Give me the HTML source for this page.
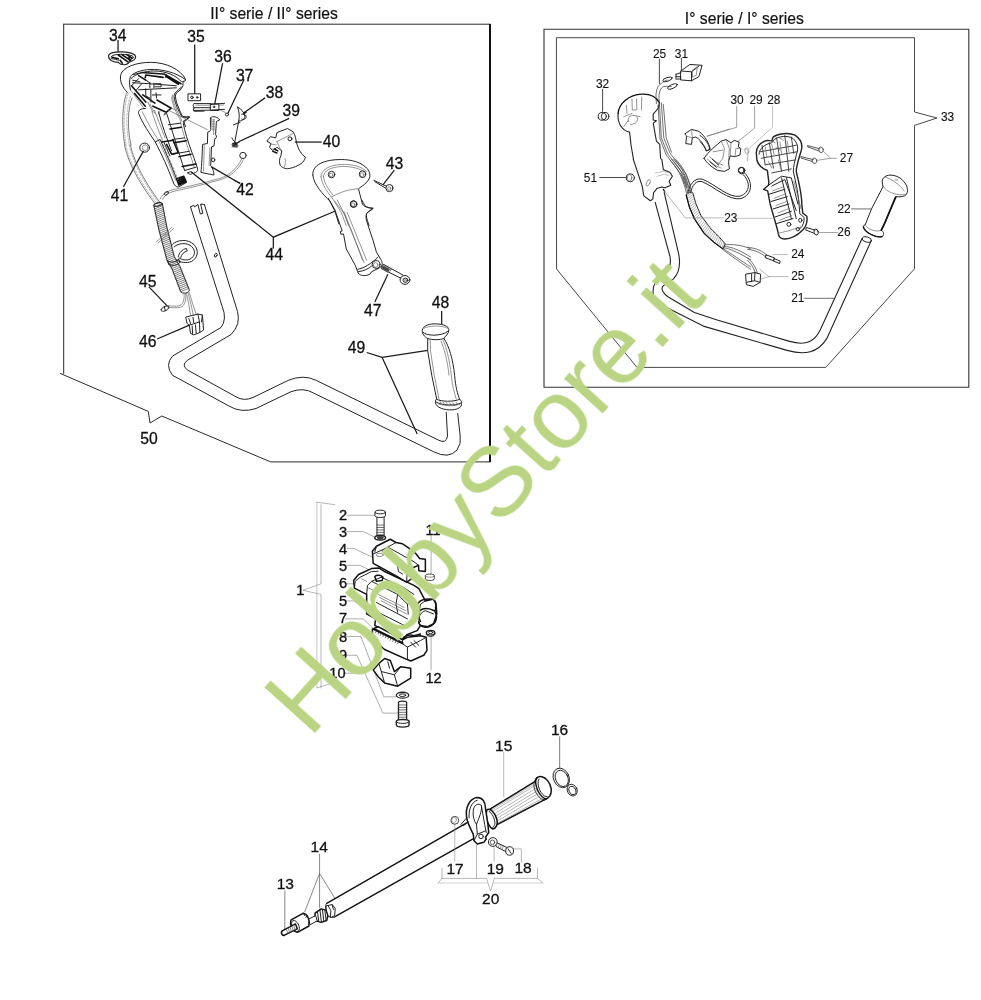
<!DOCTYPE html>
<html><head><meta charset="utf-8"><title>Parts diagram</title>
<style>
html,body{margin:0;padding:0;background:#fff;}
body{width:981px;height:1000px;overflow:hidden;font-family:"Liberation Sans",sans-serif;}
svg{display:block;position:absolute;left:0;top:0;}
text{font-family:"Liberation Sans",sans-serif;fill:#111;}
path,line,ellipse,circle,rect,polyline,polygon{vector-effect:non-scaling-stroke;}
.l{fill:none;stroke:#222;stroke-width:1;stroke-linecap:round;stroke-linejoin:round;}
.b{fill:none;stroke:#111;stroke-width:1.5;stroke-linecap:round;stroke-linejoin:round;}
.t{fill:none;stroke:#666;stroke-width:0.7;stroke-linecap:round;stroke-linejoin:round;}
.g{fill:none;stroke:#999;stroke-width:0.6;stroke-linecap:round;stroke-linejoin:round;}
.f{fill:#fff;stroke:#222;stroke-width:1;stroke-linejoin:round;}
.fb{fill:#fff;stroke:#111;stroke-width:1.5;stroke-linejoin:round;}
.k{fill:#222;stroke:none;}
.ld{fill:none;stroke:#1a1a1a;stroke-width:1.25;stroke-linecap:butt;}
.lt{fill:none;stroke:#777;stroke-width:0.7;stroke-linecap:butt;}
#labels text{text-anchor:middle;stroke:#111;}
</style></head><body>
<svg width="981" height="1000" viewBox="0 0 981 1000">
<rect width="981" height="1000" fill="#fff"/>
<g id="frames">
<path class="t" style="stroke:#2a2a2a;stroke-width:1" d="M63.7 24.2H490M63.7 24.2V373.5M60.4 373.5L148.3 411.4L150 423L161.8 416L270.6 461.9H490"/>
<path d="M490 24V462" stroke="#111" stroke-width="2" fill="none"/>
<rect x="544" y="29.3" width="424.8" height="358" fill="none" stroke="#333" stroke-width="1.1"/>
<path class="t" style="stroke:#333;stroke-width:0.9" d="M556.8 37.7H914.5V112L937 118L914.5 125.4V268.8L825.8 367.4H637L556.8 269.3Z"/>
</g>
<g style="filter:grayscale(1)">
<text x="274" y="18.5" font-size="15.7" text-anchor="middle" stroke="#111" stroke-width="0.2">II° serie / II° series</text>
<text x="744.3" y="24.4" font-size="15.7" text-anchor="middle" stroke="#111" stroke-width="0.2">I° serie / I° series</text>
</g>
<g id="parts">
<!-- a1_housing.svg -->
<g transform="translate(105,45) scale(0.10194)">
<!-- part 34 -->
<path class="f" style="stroke-width:1.2" d="M35 110C35 75 100 65 170 68C240 70 305 85 300 120C295 150 260 160 240 165C225 200 160 205 130 170C70 165 35 145 35 110Z"/>
<path class="l" d="M60 115C70 95 130 90 170 92C220 94 270 100 280 118C275 135 255 142 240 145M60 130C90 140 120 145 140 150"/>
<path class="b" style="stroke-width:1.6" d="M130 98L225 165M165 95L250 150M215 95L265 130M70 120L130 135M235 105L240 150M150 150L170 180"/>
<!-- dome -->
<path class="f" d="M220 465C170 420 140 350 155 290C175 220 300 170 450 170C600 170 740 240 790 335C795 350 780 358 765 357L765 400L740 440L700 470L690 500L700 560L740 660L760 700L830 710L770 745L790 800L830 981L300 981Z" style="stroke:none"/>
<path class="l" d="M220 465C170 420 140 350 155 290C175 220 300 170 450 170C600 170 740 240 790 335C795 350 780 358 765 357"/>
<path class="l" d="M790 340C700 270 560 235 440 240C350 245 270 275 250 310C235 340 240 400 250 440"/>
<path class="l" d="M255 330C300 280 400 255 480 255C600 255 700 300 750 360M765 357L765 400L740 440L700 470L690 500L700 560L740 660L760 700L830 710L770 745L790 800"/>
<path class="t" d="M660 490L672 560L715 665L740 710L755 750"/>
<path class="b" style="stroke-width:1.6" d="M360 270L570 285M400 295L570 318M400 295L395 320M580 285L720 365L745 380M600 310L720 385M330 300L400 345M260 400L400 560M290 475L395 600M370 490L490 570M510 540L650 620L600 660L470 600"/>
<path class="l" d="M270 370L440 380L700 400M260 400L330 330M300 450L360 380M330 440L700 420M440 370V420M480 375V420M490 380H550V410H490M400 430V500L440 520M450 440V560M465 490H550M500 470L505 520M270 345L340 360M400 345L440 370M600 290L590 320M280 290L360 270"/>
<path class="t" d="M250 440L380 620M420 560L470 660M440 580L490 670M540 650L520 680M600 660L580 690M650 620L700 640"/>
<!-- cable from dome -->
<path class="t" style="stroke:#444" d="M215 470C170 560 160 800 195 981M265 520C225 600 215 820 255 981"/>
<path class="g" style="stroke:#888" stroke-dasharray="2 1.5" d="M228 480C185 570 175 800 208 981M250 505C210 590 200 815 240 981"/>
</g>
<g transform="translate(90,40) scale(0.16310)">
<path class="ld" d="M172 0V72"/>
<!-- right side edge of housing w/ notch -->
<path class="l" d="M560 290C535 310 515 325 515 345C520 390 545 440 565 472C580 478 600 470 610 470C605 485 580 495 572 510C580 560 600 620 625 690C640 730 655 770 660 792C662 806 650 812 640 815"/>
<path class="t" d="M500 350C505 400 530 450 550 480C560 530 585 620 610 690L640 780"/>
<!-- left outer edge of grip -->
<path class="l" d="M340 420C310 420 295 430 298 450C320 510 370 580 400 625C440 700 480 790 510 870C515 890 530 905 545 900L590 875"/>
<path class="t" d="M320 440C350 500 390 570 420 615C455 690 495 780 525 860"/>
<path class="l" d="M400 625L430 610C460 680 500 770 530 850"/>
<path class="t" d="M440 620C470 690 505 770 535 845" stroke-dasharray="2 2"/>
<!-- inner channel & ribs -->
<path class="l" d="M455 455L470 450C500 540 540 680 580 800M420 440C440 520 470 600 500 680"/>
<path class="t" d="M380 440C400 500 420 560 445 615M395 430L460 600"/>
<path class="b" d="M490 545L560 535M515 630L590 618M545 715L620 700M565 775L650 760"/>
<path class="l" d="M480 520L555 510M505 610L580 600M535 695L610 682"/>
<path class="b" d="M440 625L510 615L540 690L510 700M470 640L500 700L520 695"/>
<path class="l" d="M455 630L490 710"/>
<!-- bottom connector -->
<path class="b" d="M530 850L575 835L590 870L545 890ZM540 860L580 845M545 870L585 855M548 880L588 863M550 845V885M562 840V880M574 838V875"/>
<path class="l" d="M580 800L650 780M600 815C610 805 625 805 630 815C625 825 610 828 600 815Z"/>
<!-- cable double line left -->
<path class="t" style="stroke:#444" d="M212 644C225 720 280 850 400 1005M248 644C262 720 318 850 432 1000"/>
<path class="g" style="stroke:#888" stroke-dasharray="2 1.5" d="M220 644C233 720 290 850 410 1003M240 644C254 720 310 850 424 1001"/>
<!-- part 41 washer -->
<ellipse class="l" cx="335" cy="660" rx="30" ry="28"/>
<ellipse class="t" cx="338" cy="660" rx="18" ry="17"/>
<path class="ld" d="M328 680L205 900"/>
<!-- wire bottom to right -->
<path class="t" d="M430 975C440 950 470 925 520 915C600 900 700 875 790 850C850 835 900 790 930 730M445 978C455 955 480 935 525 925C610 908 705 883 795 858C860 840 910 795 940 735"/>
<ellipse class="l" cx="938" cy="708" rx="20" ry="19"/>
<ellipse class="l" cx="468" cy="940" rx="14" ry="9" transform="rotate(-35 468 940)"/>
<!-- part 35 plate -->
<path class="l" d="M603 330H678V372H603Z"/>
<ellipse class="l" cx="625" cy="352" rx="8" ry="8"/><ellipse class="l" cx="657" cy="352" rx="5" ry="5"/>
<path class="ld" d="M642 28V330"/>
<!-- part 36 -->
<path class="l" d="M638 390H740V395L825 388M635 415H740M640 432L740 430L825 425M740 392H790V432H740ZM638 390C630 395 630 410 640 415M638 418C630 425 632 435 640 437L700 436"/>
<ellipse class="l" cx="760" cy="410" rx="5" ry="5"/>
<path class="t" d="M650 400H735M790 400L820 398M800 430L830 445"/>
<path class="ld" d="M813 142L765 392"/>
<!-- part 37 -->
<ellipse class="l" cx="840" cy="457" rx="10" ry="9"/>
<path class="ld" d="M945 240L845 450"/>
<!-- part 38/39 spring pieces -->
<path class="l" d="M905 412C925 420 945 440 950 470C945 490 925 500 912 495C918 470 915 440 905 412ZM930 455C940 450 955 455 958 470C955 485 940 492 930 485"/>
<path class="l" d="M912 495L885 640M880 520L920 505M870 600C875 615 885 625 895 630"/>
<path class="k" d="M872 630H905V655H872Z"/>
<path class="t" d="M868 640L912 650M870 655L905 660"/>
<path class="ld" d="M940 455L960 442M890 638L920 622"/>
<!-- part 42 trigger -->
<path class="l" d="M740 475C755 465 780 470 795 490L775 500L770 580C780 590 775 605 765 605L760 650L745 655L740 770C755 790 760 810 760 828L680 812C685 770 688 700 690 640L720 635L722 565C735 560 745 555 740 540Z"/>
<path class="t" d="M745 480L742 540M760 485L758 580M750 490H762M750 500H762M750 510H762M750 520H762M750 530H762M750 540H762M750 550H762M700 645C700 700 698 760 695 805M735 660L730 770"/>
<ellipse class="l" cx="755" cy="735" rx="10" ry="12"/>
<path class="t" d="M480 430L720 550"/>
<path class="ld" d="M745 778L920 880"/>
<!-- leader 44 from housing -->

</g>

<!-- a2_spring.svg -->
<g transform="translate(100,180) scale(0.16310)">
<!-- cable into spring -->

<!-- spring sleeve -->
<path class="f" d="M330 155C335 140 375 132 382 145L410 290L455 470L490 530L548 675C545 695 505 700 495 685L440 540L410 490L360 300Z"/>
<path class="t" style="stroke:#444" d="M331 167L383 145M334 178L385 156M336 189L388 168M338 201L390 179M341 212L392 190M343 224L394 202M345 235L396 213M348 246L399 225M350 258L401 236M352 269L403 248M355 281L405 259M357 292L407 270M359 303L410 282M362 315L412 293M365 326L415 305M368 337L418 316M371 348L421 327M374 360L424 338M377 371L426 350M380 382L429 361M383 393L432 372M386 404L435 384M389 416L438 395M392 427L441 406M395 438L443 417M398 449L446 429M401 461L449 440M404 472L452 451M407 483L455 463M410 494L460 473M415 505L466 483M421 515L472 493M427 524L478 503M433 534L484 513M439 544L489 523M443 555L494 534M448 566L498 545M452 577L503 555M456 588L507 566M460 599L511 577M464 609L516 588M468 620L520 599M472 631L524 610M476 642L529 620M481 653L533 631M485 664L537 642M489 675L542 653M493 686L546 664"/>
<ellipse class="l" cx="356" cy="150" rx="26" ry="9" transform="rotate(-12 356 150)"/>
<path class="l" d="M415 495C430 510 470 505 482 485M420 515C440 530 475 525 490 505M415 495L420 515M482 485L490 505"/>
<!-- break slash -->
<path class="t" d="M345 380L440 290M355 388L450 298"/>
<!-- loop -->
<path class="l" d="M445 395C470 365 540 360 575 395C610 430 600 480 560 500C530 512 490 505 470 490M455 410C480 385 535 382 562 408C590 435 582 470 552 485C530 495 500 490 485 478"/>
<path class="l" d="M480 470C485 445 505 425 530 420L535 435C515 440 500 455 495 475"/>
<!-- wires from spring bottom -->
<path class="t" d="M515 695C520 730 510 760 490 770C460 780 430 765 410 775M525 695C532 735 520 770 495 780C465 790 435 775 415 785M530 695C540 740 550 790 555 830M540 692C552 740 565 790 572 830M548 690C560 735 575 780 590 825"/>
<!-- part 45 terminal -->
<path class="l" d="M375 795C380 780 400 770 420 772C425 780 420 795 405 800C390 808 372 808 375 795ZM395 778L400 800"/>
<path class="ld" d="M300 655L410 770"/>
<!-- connector 46 -->
<path class="l" d="M528 840L600 822L628 828L635 920L612 935L575 950L555 940L548 890L535 880ZM548 890L610 870L612 935M600 822L610 870M565 895L568 945M585 888L590 940M545 850L555 880M570 842L575 875M628 828L622 870"/>
<path class="ld" d="M350 975L548 890"/>
<!-- leader 44 / 42 -->

<path class="ld" d="M820 0L860 20"/>
</g>

<!-- a3_tube.svg -->
<g>
<!-- handlebar tube left frame -->
<path class="l" d="M190.5 206.9L222.2 306.5Q227.3 319.2 221 327.5L172.5 356.1Q164.5 365.1 172.5 375.3L228.6 405.8Q241 413.5 256 408.5L290.8 391.8Q303.5 387 313.7 393.1L433.5 451.7Q448.8 459.4 457 450Q461.5 444 460.2 436L457.7 413.5"/>
<path class="l" d="M204.4 204.5L237.5 311.5Q241 324.3 231.1 334.5L187.8 360Q180.5 365.1 187.8 370.2L236.2 396.9Q244 401.5 253 397.5L288.2 380.4Q303.5 374 316.3 380.4L438.6 440.2Q446.2 444.1 447.5 436L446.2 412.2"/>
<!-- tube top with slot -->
<path class="l" d="M190.5 206.9L193.8 205.3L194.6 206.9L197.9 204.5L200.3 214L202.8 213.4L200.6 204L204.4 204.5"/>
<ellipse class="l" cx="215.8" cy="255.2" rx="1.2" ry="2" transform="rotate(25 215.8 255.2)"/>
</g>

<!-- a4_rhandle.svg -->
<g transform="translate(250,100) scale(0.16310)">
<!-- part 40 -->
<path class="l" d="M105 250L125 225L158 232L165 200L230 175L265 195C280 220 280 240 285 260C295 300 315 335 340 350C335 370 325 380 320 385C295 405 265 415 240 420C215 425 190 410 185 400C178 380 180 360 190 340L195 310L165 290L140 310L120 290L128 270Z"/>
<path class="t" d="M165 255L265 205M165 255L190 310M215 360C220 375 218 395 210 410M130 270L160 275M135 300L165 310"/>
<path class="b" d="M140 315L165 325M150 300L170 312"/>
<ellipse class="l" cx="245" cy="238" rx="12" ry="12"/>
<path class="ld" d="M275 258H440"/>
<!-- right handle top -->
<path class="l" d="M385 460C380 400 450 365 560 365C660 365 740 410 735 470C725 510 680 530 665 545L690 640C705 660 735 662 755 665C740 680 720 685 715 695C712 710 715 725 720 740L730 770"/>
<path class="l" d="M385 460C390 520 450 580 490 620L520 680L545 760"/>
<path class="t" d="M435 470C435 430 480 400 560 395C630 392 690 410 715 440M435 470C440 520 480 570 500 595C560 560 620 545 665 545M500 595L560 690L590 770M450 470C452 435 490 412 560 408C620 405 680 420 705 445M450 470C455 515 490 560 510 585M520 620L580 700L605 770"/>
<ellipse class="l" cx="500" cy="457" rx="20" ry="20"/><ellipse class="t" cx="497" cy="460" rx="11" ry="11"/>
<ellipse class="l" cx="690" cy="455" rx="20" ry="21"/><ellipse class="t" cx="687" cy="458" rx="11" ry="12"/>
<ellipse class="l" cx="635" cy="638" rx="20" ry="20"/><ellipse class="t" cx="632" cy="641" rx="11" ry="11"/>
<!-- part 43 screw -->
<path class="l" d="M760 493L835 528M765 500L830 540"/>
<ellipse class="l" cx="855" cy="540" rx="22" ry="22"/><ellipse class="t" cx="853" cy="543" rx="10" ry="10"/>
<path class="ld" d="M885 430L815 520"/>
<!-- leaders 44 -->
<path class="ld" d="M-360 441L143 841L520 682M143 841V910"/>
<!-- leaders 38 39 -->
<path class="ld" d="M-39 80L92 -13M-70 256L240 113"/>
</g>
<g transform="translate(290,200) scale(0.16310)">
<path class="l" d="M235 -10L275 60L320 190L308 193L312 210L328 208L345 300L400 400L415 440C420 465 460 470 490 455L500 440L550 415C565 405 570 390 560 370L530 320L510 250L470 130C465 110 465 95 470 82C485 70 500 55 510 50C490 50 470 45 460 35L440 0"/>
<path class="l" d="M415 425C450 420 500 390 540 350M418 440C455 435 485 420 500 405"/>
<path class="t" d="M290 0L330 80L400 250L455 385M330 70L390 220L445 370M350 75L470 370"/>
<ellipse class="l" cx="528" cy="395" rx="24" ry="24"/><ellipse class="t" cx="525" cy="398" rx="14" ry="14"/>
<ellipse class="l" cx="390" cy="25" rx="20" ry="20"/>
<!-- bolt 47 -->
<path class="l" d="M560 420L680 480M575 396L692 460M560 420C556 410 565 398 575 396"/><path d="M568 400L612 424L600 446L558 422Z" fill="#555"/>
<path class="t" style="stroke:#333" d="M572 415L582 402M580 420L590 407M588 424L598 411M596 428L606 415M604 433L614 420M612 437L622 424"/>
<ellipse class="l" cx="705" cy="490" rx="30" ry="27"/><ellipse class="l" cx="708" cy="492" rx="15" ry="13"/><ellipse class="t" cx="708" cy="492" rx="6" ry="5"/>
<path class="ld" d="M600 455L520 625"/>
<!-- leader 48 -->
<path class="ld" d="M930 680V770"/>
<!-- leader 49 -->
<path class="ld" d="M470 935L565 965L855 920M565 965L780 1435"/>
</g>

<!-- a5_grip48.svg -->
<g transform="translate(360,310) scale(0.16310)">
<path class="f" d="M415 175C395 165 380 145 382 125C385 95 430 82 470 85C510 87 545 100 545 120C545 150 520 160 515 175C545 220 570 300 580 400C585 470 600 520 610 545C620 555 625 565 622 575C625 595 600 610 565 612C520 615 465 600 462 565C462 555 465 548 470 545L440 400L415 250Z"/>
<path class="l" d="M385 135C400 160 500 165 543 128M415 175C440 185 490 185 515 175"/>
<path class="t" d="M392 112C420 95 500 92 538 112M430 185L432 250L455 400L485 548M510 185C530 230 548 300 560 400C565 460 578 510 590 545M497 190C515 235 535 300 546 400"/>
<path class="l" d="M470 548C500 562 570 565 610 548M468 565C500 585 580 590 620 570"/>
<path class="t" d="M480 575C520 590 580 590 612 578M490 560L500 575M510 565L520 582M530 568L540 585M550 570L560 586M570 570L580 585M590 566L598 580"/>
</g>

<!-- b1_lhandle.svg -->
<g transform="translate(570,40) scale(0.16310)">
<!-- handle half -->
<path fill="#fff" d="M295 450C300 390 360 335 440 332C490 330 530 350 548 385L540 420L510 455L510 490L530 495L510 510L530 620L550 640L555 720L558 735L390 735L375 650L365 565C310 550 290 500 295 450Z"/>
<path class="l" style="stroke:#222;stroke-width:1.1" d="M548 385L540 420L510 455L510 490L530 495L510 510L530 620L550 640L555 720L558 735M390 735L375 650L365 565C310 550 290 500 295 450"/>
<path class="b" style="stroke-width:1.3" d="M295 450C300 390 360 335 440 332C490 330 530 350 548 385"/>
<path class="t" d="M380 362L382 430L410 428L408 362M440 350L438 430M345 400L350 450M330 470L380 450M330 530L360 490M360 500C350 480 365 460 390 462M390 462L430 470M410 470C420 480 415 500 400 510L370 520"/>

<!-- wires -->
<path class="t" style="stroke:#333" d="M530 390C525 350 525 310 540 285C555 265 580 250 595 245M548 385C542 350 545 315 560 295C580 275 600 290 620 285M548 385L560 600L600 700L700 830L725 900M560 385L575 600L612 692L712 822L740 895M540 400L552 605L590 705L690 835L712 905M572 395L590 600L622 688"/>
<ellipse class="l" cx="598" cy="241" rx="30" ry="11" transform="rotate(-18 598 241)"/>
<ellipse class="l" cx="628" cy="285" rx="32" ry="12" transform="rotate(-22 628 285)"/>
<path class="t" d="M700 840L720 905M680 820L700 880"/>
<!-- switch 31 -->
<path class="l" d="M680 190L735 150L810 155L790 225L745 250L680 245ZM680 190L745 195L745 250M745 195L790 160M650 210L680 200M650 225L680 225M655 240L680 238M650 210V240"/>
<path class="t" d="M755 180L780 165L775 215L752 228Z"/>
<path class="lt" style="stroke:#333;stroke-width:0.9" d="M548 115V270M683 110V190"/>
<!-- part 32 -->
<ellipse class="l" cx="198" cy="468" rx="25" ry="24"/><ellipse class="l" cx="215" cy="468" rx="23" ry="24"/>
<path class="lt" style="stroke:#333;stroke-width:0.9" d="M200 300V440"/>
<!-- part 51 -->
<ellipse class="l" cx="370" cy="845" rx="25" ry="24"/><ellipse class="t" cx="365" cy="845" rx="14" ry="20"/>
<path class="lt" style="stroke:#333;stroke-width:0.9" d="M180 843H345"/>
<!-- part 30 lever -->
<path class="l" d="M705 575L745 548L790 560C830 590 850 630 860 670L835 680C820 640 800 610 770 595L750 600L745 640L710 635L715 590Z"/>
<path class="t" d="M715 590L750 600M745 548L750 600"/>
<path class="lt" d="M840 590L981 545"/>
<!-- wire loop start -->

</g>

<!-- b2_rhandle.svg -->
<g transform="translate(700,80) scale(0.16310)">
<!-- part 29 bracket -->
<path class="l" d="M25 480C50 440 100 400 130 375L160 365L190 385L210 370L240 380L235 410L250 420L245 460L215 470L185 465L175 500L180 545L150 560L110 555C80 540 40 510 25 480Z"/>
<path class="t" d="M45 485C70 510 100 530 130 540M60 470C85 495 110 512 140 522M130 375L150 420L140 480L110 520M160 365L180 420L175 500M80 440L140 430M190 385L185 465M215 470L220 420L250 420"/>
<path class="l" d="M60 500L100 535M75 485L115 522"/>
<!-- part 28 spring -->
<path class="g" style="stroke:#777" d="M270 430C275 410 300 410 300 435C300 455 275 455 275 435C275 420 295 420 295 435M295 440L290 495"/>
<!-- leaders 30 29 28 -->
<path class="lt" d="M225 160V290L40 345M335 160V295L235 375"/>
<path class="g" d="M445 160V290L300 420"/>
<!-- ball wire -->
<ellipse class="l" cx="253" cy="553" rx="17" ry="17"/>

<!-- part 30 tail -->
<path class="l" d="M0 340C30 360 55 390 60 425L40 435C30 410 15 390 0 378"/>
<!-- right handle half -->
<path class="f" style="stroke-width:1.4" d="M347 463C338 420 363 382 413 370L441 373L447 351C475 329 544 320 582 338C619 363 632 401 619 438C600 500 590 530 590 560C605 620 625 700 625 770L630 815L655 835C660 870 650 900 630 920C600 950 560 975 520 975C495 975 480 960 480 940L470 900L430 760L415 680L390 670L420 645L422 626L413 554C369 538 344 513 347 463Z"/>
<path class="l" d="M362 455C362 420 400 392 440 385L455 365C485 345 535 338 570 358C600 385 605 420 592 455C582 495 572 530 572 560C585 620 605 700 608 770L612 820L638 842C640 870 632 895 615 910"/>
<path class="l" style="stroke:#333;stroke-width:0.9" d="M380 400L400 520M425 385L450 540M470 355L500 560M520 340L545 560M560 350L575 450M370 440L590 400M375 480L595 440M400 520L585 490M440 570L560 545"/>
<path class="t" d="M400 410L410 470M440 395L455 460M490 380L500 450M535 375L545 440M460 420C470 410 490 415 490 430M420 500L440 540M480 490L495 545M430 370L460 385M480 350L510 370"/>
<path class="l" d="M420 645L500 590L560 600L600 760M440 650L520 610L590 800M425 700L520 670M435 745L535 715M450 790L545 760M460 840L560 805M470 880L570 850M500 600L560 850M530 600L590 850"/>
<path class="t" d="M445 680L510 655M455 725L525 698M465 770L538 742M478 815L550 787M488 860L560 832M575 620L620 790M480 940L540 925L620 900"/>
<ellipse class="l" cx="545" cy="885" rx="12" ry="12"/><ellipse class="l" cx="615" cy="860" rx="10" ry="12"/><ellipse class="l" cx="600" cy="915" rx="10" ry="10"/>
<!-- parts 27 screws -->
<path class="l" style="stroke:#555" d="M660 402L735 422M665 412L730 435M660 402C655 405 658 412 665 412M620 470L695 488M625 480L690 500M620 470C615 473 618 480 625 480"/>
<ellipse class="l" style="stroke:#555" cx="742" cy="428" rx="14" ry="17" transform="rotate(-15 742 428)"/>
<ellipse class="l" style="stroke:#555" cx="702" cy="495" rx="14" ry="17" transform="rotate(-15 702 495)"/>
<path class="lt" d="M840 480H800L755 435M800 480L715 493"/>
<!-- part 26 screw -->
<path class="l" d="M655 905L705 920M650 920L700 940M655 905C648 908 645 918 650 920"/>
<ellipse class="l" cx="712" cy="932" rx="13" ry="18" transform="rotate(-15 712 932)"/>
<path class="lt" d="M730 935H845"/>
<!-- leader 23 -->
<path class="g" d="M230 848H460"/>
<!-- leader 22 -->

</g>

<!-- b3_tube.svg -->
<g transform="translate(590,160) scale(0.16310)">
<!-- handle bottom -->
<path d="M265 -5L320 160L330 220L370 250L385 240L390 200L410 175L440 165L460 170L495 155L485 130L505 100L490 75L450 60L440 -5Z" fill="#fff"/><path class="l" style="stroke:#222;stroke-width:1.1" d="M265 -5L320 160L330 220L370 250L385 240L390 200L410 175L440 165L460 170L495 155L485 130L505 100L490 75L450 60L440 -5"/>
<ellipse class="t" cx="357" cy="140" rx="10" ry="22" transform="rotate(25 357 140)"/>
<path class="g" d="M400 80L450 70L480 80M410 100L455 88L485 95"/>
<path class="b" style="stroke-width:1.3" d="M450 180L458 195"/>
<!-- wires above wrap -->
<path class="t" style="stroke:#333" d="M500 -5C540 30 580 90 600 200M512 -5C552 30 592 90 612 195M524 -5C562 30 600 90 622 195M490 0C530 40 568 100 592 205"/>
<!-- ball wire -->
<ellipse class="l" cx="930" cy="65" rx="20" ry="20"/>
<path class="l" d="M935 85C985 130 985 200 920 222C850 235 770 150 690 118C640 105 612 150 600 200M948 80C1000 130 1000 212 925 237C850 250 765 165 688 133C650 122 628 155 616 198"/>
<!-- spiral wrap -->
<path class="f" d="M590 215C600 200 620 195 630 200L650 270L680 340L740 420L790 470L830 515L815 545L760 505L700 450L640 360L610 290Z"/>
<path class="g" style="stroke:#888" d="M592 222L630 200M595 235L633 211M599 248L637 223M602 261L640 235M606 275L644 247M609 288L647 260M615 301L651 272M620 313L656 283M625 326L661 295M631 338L666 307M636 351L671 318M642 363L676 330M650 375L681 341M657 386L689 352M665 397L696 362M673 409L704 372M680 420L711 382M688 432L719 392M695 443L727 402M704 454L734 412M714 463L742 422M724 472L751 431M734 481L760 440M744 491L769 449M755 500L778 458M765 509L787 467M776 517L796 476M787 525L804 486M798 533L812 495M809 541L821 505"/>
<path class="b" style="stroke-width:1.2" d="M590 215L610 290L640 360L700 450L760 505L815 545"/>
<!-- split wires -->
<path class="t" style="stroke:#333" d="M825 520C870 515 930 520 985 545M822 530C870 530 930 560 985 595M820 538C870 545 930 580 985 612M818 545C860 570 930 620 985 655M815 550C855 580 925 630 985 670"/>
<!-- leader 23 -->
<path class="g" style="stroke:#888" d="M455 190L585 355H820"/>
<!-- part 51 -->
</g>
<g>
<!-- tube right frame (source coords) -->
<path class="l" style="stroke-width:1.1" d="M664.2 192.6L678.1 251.3C681.3 264.4 679.7 272.5 673.2 279.1L663.4 285.6C660.1 288.9 663.4 293.7 668.3 297L694.4 312.5L717.2 320L789.6 341.4C807.5 346.5 815.1 340.2 820.2 330L862.2 238.2"/>
<path class="l" style="stroke-width:1.1" d="M655.2 202.4L669.9 256.2C671 262 671 266 668 270M656 282C652.5 286 652 295.4 655.2 300.3C660 305 664 306 667.6 308L703.3 326.1L787.1 350.4C804.9 355.5 817.6 352.9 826.6 338.9L871.2 240.8"/>
<ellipse class="l" cx="866.8" cy="239.5" rx="4.8" ry="2.6" transform="rotate(15 866.8 239.5)"/>
</g>
<g transform="translate(750,160) scale(0.16310)">
<!-- grip 22 -->
<path class="f" d="M810 130C815 90 870 80 920 110C960 140 975 180 960 210C950 225 920 228 895 225L830 380L805 430C820 440 825 460 810 470C770 480 700 440 695 410C695 400 700 400 705 400L745 300L815 165Z"/>
<path class="t" d="M815 160C840 200 900 220 955 212M830 105C870 120 920 150 945 190M705 400C730 430 780 445 805 430"/>
<path class="b" style="stroke-width:1.8" d="M893 228L820 400L805 430"/>
<path class="b" style="stroke-width:1.3" d="M695 410C700 440 770 480 810 470"/>
<ellipse class="g" cx="895" cy="122" rx="8" ry="4"/>
<path class="lt" style="stroke:#333" d="M620 300H745"/>
<!-- part 26 leader etc -->
<path class="g" style="stroke:#888" d="M140 580H230M115 715H235M115 715L60 670M115 715L70 730"/>
<path class="lt" style="stroke:#333" d="M330 848H515"/>
<!-- part 24 -->
<path class="t" style="stroke:#333" d="M-15 535C40 540 80 560 105 585M-15 548C35 552 70 572 98 595"/>
<path class="l" d="M100 582L150 600L145 618L95 600ZM150 605L185 620L182 635L146 620Z"/>
<!-- part 25 connector -->
<path class="l" d="M-25 700L30 690L65 700L62 750L20 775L-20 765ZM30 690L28 740L62 750M28 740L-20 750M10 700V745"/>
<path class="t" style="stroke:#333" d="M-15 600C10 620 40 660 45 695M-15 615C5 635 28 665 32 692"/>
</g>

<!-- c1_clamp.svg -->
<g>
<!-- bracket 1 (source coords) -->
<path class="g" style="stroke:#888" d="M316.9 502.2L334.8 504.7M321 504.7V583.8L303 590.3L321 594.4V687.9M316.9 687.9L330 683.8"/>
<path class="g" style="stroke:#999" stroke-dasharray="1 1" d="M316.9 502.2V687.9"/>
</g>
<g transform="translate(290,490) scale(0.16310)">
<!-- leaders -->
<path class="g" style="stroke:#777" d="M350 155H520M350 255H450L530 295M350 358H390L505 412M350 462H430L490 492M350 575H395M350 680H390L470 720M340 790H450L515 855"/>
<path class="g" style="stroke:#777" d="M865 280V515"/>
<!-- bolt 2 -->
<path class="f" d="M533 160V285H577V160Z"/>
<path class="t" style="stroke:#333" d="M535 215H575M535 230H575M535 245H575M535 260H575M535 275H575"/>
<path class="f" d="M521 135C521 120 585 120 585 135V158C585 172 521 172 521 158Z"/>
<path class="l" d="M521 137C525 150 582 150 585 137"/>
<!-- washer 3 -->
<ellipse class="f" style="stroke-width:1.5" cx="553" cy="293" rx="33" ry="14"/>
<ellipse class="l" cx="553" cy="293" rx="18" ry="7" style="fill:#555"/>
<!-- middle block -->
<path class="fb" d="M390 555L420 518L500 482L545 478L580 500L760 585L790 605L830 680L880 668L895 700L900 760L880 820L845 838L800 830L780 862L720 885L690 920L640 900L520 830L525 790L470 760L470 640L395 602Z"/>
<path class="l" d="M395 602L400 560L430 535L500 500L540 498M470 640L475 585L500 560L560 535M500 560L660 640L720 700L725 760M560 535L700 600L760 640M530 690L720 790M520 740L700 830M660 640L650 700L660 750M720 700C740 680 770 680 790 700M800 830C780 800 790 750 830 740L880 760M830 680L800 700L790 760M525 790C540 800 560 800 570 790"/>
<path class="b" d="M520 530C530 520 560 520 570 535L565 555L530 560Z"/>
<path class="b" d="M788 691C800 672 830 668 860 668C885 668 896 685 894 700C895 720 893 735 888 742C898 760 900 790 890 810C875 830 850 842 829 842C805 840 790 825 788 808M795 740C815 725 850 722 888 742M795 740C790 760 790 790 800 805"/>
<path class="t" d="M540 640L700 720M550 660L710 740M560 680L715 760M480 600L520 620M440 545L470 560"/>
<!-- top block 4 -->
<path class="fb" d="M505 375L530 345L615 302L650 322L690 330L720 350L770 388L795 420L830 425L830 500L790 495L788 462L745 480L745 545L715 565L640 520L510 450Z"/>
<path class="l" d="M510 392L560 370L720 470L745 480M560 370L600 350L650 322M720 470L715 565M600 350L760 440L788 462M530 345L520 380M660 470L665 500L690 515"/>
<ellipse class="t" cx="550" cy="398" rx="22" ry="10"/>
<!-- part 11 -->
<path class="f" style="stroke:#444" d="M830 525C830 512 885 512 885 525V545C885 558 830 558 830 545Z"/>
<path class="t" d="M830 527C835 538 880 538 885 527"/>
</g>
<g transform="translate(290,590) scale(0.16310)">
<path class="g" style="stroke:#777" d="M340 285H435L575 655H652M340 400H410L570 755H662M340 510H420M865 285V490"/>
<!-- lower small block -->
<path class="fb" d="M510 490L545 450L580 420L615 432L640 500L680 470L740 480L740 540L660 590L580 570L540 530Z"/>
<path class="l" d="M545 450L560 500L640 520L680 470M560 500L580 570M640 520L660 590M600 440L610 480"/>
<!-- bottom block 7 -->
<path class="fb" d="M505 240L540 225L690 305L720 290L800 280L835 290L840 370L820 400L740 435L715 425L580 365L505 300Z"/>
<path class="l" d="M505 240L690 330L720 350L720 425M720 350L800 310L835 290M690 305L690 330M740 320L770 350M760 310L790 340"/>
<path class="b" style="stroke-width:2" d="M515 238L690 325"/>
<path class="t" style="stroke:#222" d="M530 250L525 262M545 257L540 270M560 265L555 278M575 272L570 285M590 280L585 293M605 287L600 300M620 295L615 308M635 302L630 315M650 310L645 323M665 317L660 330"/>
<!-- middle lobes lower edge -->
<path class="b" d="M690 300C700 280 730 270 760 280L800 270"/>
<!-- washer 9 -->
<ellipse class="f" style="stroke-width:1.3" cx="690" cy="645" rx="38" ry="18"/>
<ellipse class="l" cx="690" cy="645" rx="20" ry="8"/>
<!-- bolt 10 -->
<path class="f" style="stroke-width:1.3" d="M665 690C665 678 715 678 715 690V800H665Z"/>
<path class="t" style="stroke:#333" d="M667 705H713M667 720H713M667 735H713M667 750H713M667 765H713M667 780H713"/>
<path class="f" style="stroke-width:1.4" d="M652 805C652 790 730 790 730 805V828C730 845 652 845 652 828Z"/>
<path class="l" d="M652 808C660 822 722 822 730 808"/>
<!-- washer 12 -->
<ellipse class="f" style="stroke-width:1.2" cx="862" cy="262" rx="26" ry="14"/>
<ellipse class="l" cx="862" cy="260" rx="14" ry="7"/>
<path class="l" d="M836 262V272C840 288 884 288 888 272V262"/>
</g>

<!-- d1_shaft.svg -->
<g>
<!-- shaft tube (source coords) -->
<path class="b" style="stroke-width:1.4" d="M326.7 903.4L466.7 822.8M334.6 916.9L475.7 837.4"/>
<!-- bracket 20 -->
<path class="g" style="stroke:#888" d="M442 868.2V878.4L438.2 883M442 878.4H486.6L490.5 891.1L494.3 878.4H537.6M537.6 868.2V878.4L542.7 883M476.5 845.3V878.4"/>
<path class="g" style="stroke:#aaa" stroke-dasharray="1 1" d="M438.2 883H487M494 883H542.7"/>
</g>
<g transform="translate(430,720) scale(0.16310)">
<!-- leaders -->
<path class="g" style="stroke:#888" d="M452 195V470M152 640V865M393 775V865M510 790H560V870"/>
<path class="lt" style="stroke:#444" d="M795 100V295"/>
<!-- grip 15 -->
<path class="fb" d="M370 545L640 380L655 355C670 340 700 345 720 370C745 400 750 440 735 465C725 480 715 485 700 490L415 640Z"/>
<path class="b" d="M655 355C640 370 650 420 670 450C685 470 700 485 715 482"/><path class="l" d="M668 362C656 378 664 420 682 445C694 462 706 472 718 470M640 380C630 395 640 435 660 462C672 478 688 490 700 490"/>
<path class="g" style="stroke:#888" d="M385 560L645 402M395 575L650 418M402 590L655 435M408 605L662 450M412 620L675 465M415 632L690 480M378 552L642 392"/>
<!-- collar -->
<path class="fb" d="M350 550C370 540 400 570 410 610C418 640 405 665 385 668C365 660 345 620 345 585C345 565 347 555 350 550Z"/>
<path class="l" d="M362 560C380 570 395 600 398 630C398 645 392 655 385 658"/>
<!-- bracket loop -->
<path class="fb" d="M225 600C215 540 240 480 290 475C320 475 340 500 340 540L355 640L360 690L340 720L345 730L330 750L290 760L270 740L265 700C245 660 230 630 225 600Z"/>
<path class="f" d="M265 560C265 520 300 505 315 525C320 560 300 600 285 640C270 620 262 590 265 560Z"/>
<path class="l" d="M240 600C235 550 255 500 290 492M285 640L290 700L340 680M315 525L335 640L345 690M270 740L290 700"/>
<ellipse class="l" cx="313" cy="714" rx="14" ry="14"/>
<path class="l" d="M225 600L190 640M235 625L205 648"/>
<!-- ring 16 -->
<ellipse class="l" cx="805" cy="355" rx="48" ry="62" transform="rotate(-25 805 355)"/>
<ellipse class="l" cx="808" cy="358" rx="38" ry="52" transform="rotate(-25 808 358)"/>
<ellipse class="l" cx="872" cy="430" rx="30" ry="37" transform="rotate(-25 872 430)"/>
<ellipse class="l" cx="873" cy="432" rx="20" ry="27" transform="rotate(-25 873 432)"/>
<!-- part 17 nut -->
<ellipse class="f" style="stroke:#444" cx="152" cy="615" rx="24" ry="24"/>
<ellipse class="g" style="stroke:#777" cx="148" cy="612" rx="14" ry="16"/>
<!-- part 19 washer -->
<ellipse class="f" cx="385" cy="748" rx="27" ry="27"/>
<ellipse class="l" cx="383" cy="750" rx="14" ry="14" style="stroke:#555"/>
<!-- part 18 screw -->
<path class="f" d="M415 755L478 785L468 808L408 778C402 770 405 758 415 755Z"/>
<path class="t" d="M425 762L418 780M437 768L430 786M449 774L442 792"/>
<ellipse class="f" cx="488" cy="803" rx="24" ry="26"/>
<path class="l" d="M478 790L498 818"/>
</g>
<g transform="translate(260,830) scale(0.12232)">
<!-- leaders 13/14 -->
<path class="lt" style="stroke:#555" d="M487 195V355L365 670M487 355V640M487 355L610 555M203 495V810"/>
<!-- tube end -->
<path class="f" d="M545 600C530 620 535 660 560 700C575 715 595 720 610 710"/>
<!-- piece behind nut -->
<path class="f" d="M540 620L590 610L615 640L610 700L580 715L545 700Z"/>
<path class="l" d="M560 625L580 660L575 710M590 610L600 650"/>
<!-- knurled nut -->
<path class="fb" d="M450 680L500 645L540 655L555 700L545 740L500 755L465 745L450 710Z"/>
<path class="l" d="M470 670L480 745M490 655L502 750M510 650L522 748M530 655L540 735"/>
<!-- thin rod -->
<path class="f" d="M395 730L455 700L468 742L410 775Z"/>
<!-- cylinder -->
<path class="fb" d="M255 735L355 680C375 685 395 705 400 740L400 785L310 835C280 840 250 800 250 760C250 748 252 740 255 735Z"/>
<ellipse class="l" cx="290" cy="785" rx="28" ry="48" transform="rotate(-25 290 785)"/>
<path class="l" d="M355 680L365 700M385 700L375 715"/>
<!-- rod 13 -->
<path class="fb" d="M185 822L290 768L305 808L200 860C180 868 165 835 185 822Z"/>
<path class="t" style="stroke:#555" d="M215 810L228 845M230 802L243 838M245 795L258 830M260 788L273 822M275 780L288 815"/>
</g>

</g>
<g id="labels" style="filter:grayscale(1)">
<g class="L" font-size="15.7" style="stroke-width:0.3px">
<text transform="translate(117.7,40.8) scale(1.0,1)">34</text><text transform="translate(196.0,42.0) scale(1.0,1)">35</text><text transform="translate(223.0,62.2) scale(1.0,1)">36</text><text transform="translate(244.6,81.3) scale(1.0,1)">37</text><text transform="translate(274.5,97.9) scale(1.0,1)">38</text><text transform="translate(291.3,115.9) scale(1.0,1)">39</text><text transform="translate(331.5,147.0) scale(1.0,1)">40</text><text transform="translate(119.5,200.6) scale(1.0,1)">41</text><text transform="translate(245.0,194.6) scale(1.0,1)">42</text><text transform="translate(394.5,169.0) scale(1.0,1)">43</text><text transform="translate(274.2,260.3) scale(1.0,1)">44</text><text transform="translate(147.8,287.1) scale(1.0,1)">45</text><text transform="translate(147.8,347.2) scale(1.0,1)">46</text><text transform="translate(372.8,315.9) scale(1.0,1)">47</text><text transform="translate(440.4,308.2) scale(1.0,1)">48</text><text transform="translate(356.5,353.3) scale(1.0,1)">49</text><text transform="translate(149.0,443.8) scale(1.0,1)">50</text>
</g>
<g class="R" font-size="11.9" style="stroke-width:0.1px">
<text transform="translate(659.5,58.0) scale(1.0,1)">25</text><text transform="translate(681.4,58.0) scale(1.0,1)">31</text><text transform="translate(602.6,88.0) scale(1.0,1)">32</text><text transform="translate(737.0,104.0) scale(1.0,1)">30</text><text transform="translate(756.0,104.0) scale(1.0,1)">29</text><text transform="translate(773.8,104.0) scale(1.0,1)">28</text><text transform="translate(590.4,182.0) scale(1.0,1)">51</text><text transform="translate(730.8,222.0) scale(1.0,1)">23</text><text transform="translate(846.4,161.5) scale(1.0,1)">27</text><text transform="translate(947.6,120.7) scale(1.0,1)">33</text><text transform="translate(844.1,212.5) scale(1.0,1)">22</text><text transform="translate(843.9,236.0) scale(1.0,1)">26</text><text transform="translate(797.8,258.0) scale(1.0,1)">24</text><text transform="translate(797.8,280.2) scale(1.0,1)">25</text><text transform="translate(797.8,302.1) scale(1.0,1)">21</text>
</g>
<g class="C" font-size="14.6" style="stroke-width:0.35px">
<text transform="translate(343.0,519.6) scale(1.0,1)">2</text><text transform="translate(343.0,536.9) scale(1.0,1)">3</text><text transform="translate(343.0,554.0) scale(1.0,1)">4</text><text transform="translate(343.0,571.3) scale(1.0,1)">5</text><text transform="translate(343.0,588.4) scale(1.0,1)">6</text><text transform="translate(343.0,605.7) scale(1.0,1)">5</text><text transform="translate(343.0,622.8) scale(1.0,1)">7</text><text transform="translate(343.0,641.9) scale(1.0,1)">8</text><text transform="translate(343.0,659.8) scale(1.0,1)">9</text><text transform="translate(337.4,677.6) scale(1.0,1)">10</text><text transform="translate(433.0,534.9) scale(1.0,1)">11</text><text transform="translate(433.5,682.7) scale(1.0,1)">12</text><text transform="translate(300.2,594.8) scale(1.0,1)">1</text>
</g>
<g class="D" font-size="15.5" style="stroke-width:0.3px">
<text transform="translate(503.7,751.4) scale(1.0,1)">15</text><text transform="translate(559.5,734.8) scale(1.0,1)">16</text><text transform="translate(455.0,873.7) scale(1.0,1)">17</text><text transform="translate(495.3,873.7) scale(1.0,1)">19</text><text transform="translate(523.0,872.9) scale(1.0,1)">18</text><text transform="translate(490.7,904.3) scale(1.0,1)">20</text><text transform="translate(319.2,852.3) scale(1.0,1)">14</text><text transform="translate(285.3,889.3) scale(1.0,1)">13</text>
</g>
</g>
<g id="wm">
<text x="0" y="0" font-size="98.2" transform="translate(309.2,738.6) rotate(-47.93)" style="fill:#b9d583">HobbyStore.it</text>
</g>
</svg>
</body></html>
